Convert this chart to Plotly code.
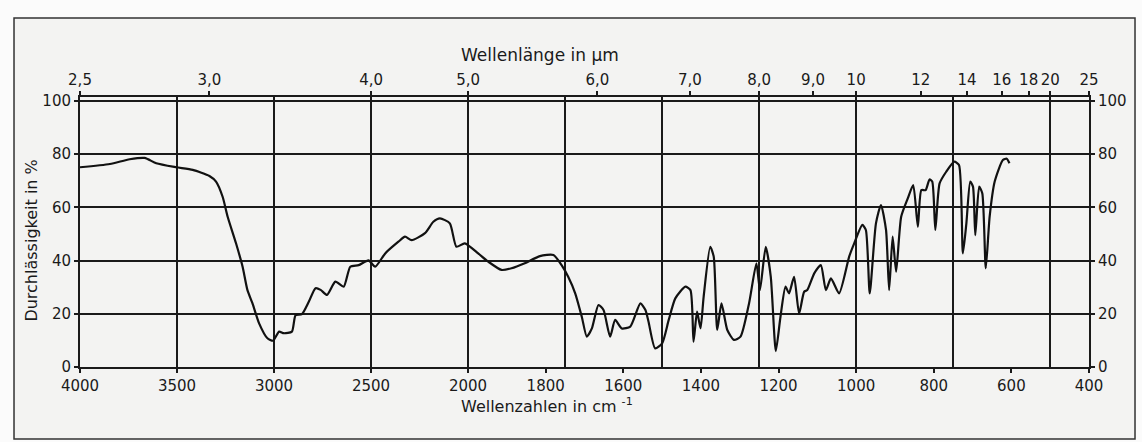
import plotly.graph_objects as go

# ---- data ----
wavenumber = [4000, 3846, 3744, 3667, 3607, 3504, 3419, 3333, 3299, 3265, 3239, 3196, 3162, 3137,
              3111, 3077, 3034, 3005, 2974, 2950, 2908, 2889, 2856, 2821, 2786, 2760, 2727, 2684,
              2641, 2607, 2564, 2513, 2479, 2427, 2359, 2325, 2291, 2222, 2179, 2145, 2094, 2060,
              2017, 1974, 1948, 1914, 1888, 1854, 1815, 1780, 1759, 1742, 1724, 1707, 1694, 1681,
              1664, 1651, 1634, 1621, 1604, 1582, 1556, 1543, 1535, 1518, 1500, 1483, 1466, 1440,
              1427, 1419, 1410, 1401, 1393, 1376, 1367, 1358, 1347, 1332, 1315, 1298, 1276, 1257,
              1248, 1233, 1220, 1207, 1195, 1182, 1173, 1160, 1147, 1134, 1126, 1108, 1091, 1078,
              1065, 1044, 1018, 1005, 984, 975, 965, 949, 936, 923, 915, 906, 897, 884, 867, 853,
              841, 832, 821, 811, 804, 796, 785, 768, 747, 735, 725, 716, 706, 699, 693, 683, 675,
              666, 656, 643, 622, 612, 605]
transmission = [75.1, 76.3, 78.1, 78.6, 76.6, 75.1, 74.1, 71.8, 69.7, 64.0, 56.5, 46.5, 37.7, 28.9,
                23.9, 16.4, 10.8, 9.9, 13.3, 12.7, 13.3, 19.5, 19.9, 24.5, 29.6, 29.0, 27.1, 32.1,
                30.2, 37.7, 38.3, 40.1, 37.7, 42.7, 47.1, 49.0, 47.7, 50.3, 54.6, 55.9, 54.0, 45.2,
                46.5, 42.7, 39.6, 36.5, 37.1, 39.0, 41.7, 42.1, 38.3, 33.9, 27.7, 18.9, 11.4, 14.5,
                23.3, 21.4, 11.4, 17.7, 14.5, 15.2, 23.9, 21.4, 17.0, 7.0, 8.9, 17.7, 25.8, 30.2,
                28.9, 9.5, 20.8, 14.5, 26.4, 45.2, 41.5, 13.9, 23.9, 13.9, 10.2, 11.4, 23.9, 39.0,
                28.9, 45.2, 33.9, 6.0, 18.9, 30.2, 27.7, 33.9, 20.1, 28.3, 28.9, 35.2, 38.3, 28.9,
                33.3, 27.7, 41.5, 46.5, 53.4, 51.5, 27.7, 54.0, 60.9, 51.5, 28.9, 49.0, 35.8, 56.5,
                63.4, 68.4, 52.7, 66.5, 66.5, 70.5, 69.7, 51.5, 69.0, 73.4, 77.2, 75.9, 42.7, 54.0,
                69.7, 67.8, 49.6, 67.8, 65.3, 37.1, 56.5, 69.7, 77.8, 78.3, 76.6]

wavelength_ticks = [2.5, 3.0, 4.0, 5.0, 6.0, 7.0, 8.0, 9.0, 10, 12, 14, 16, 18, 20, 25]
wavelength_labels = ["2,5", "3,0", "4,0", "5,0", "6,0", "7,0", "8,0", "9,0",
                     "10", "12", "14", "16", "18", "20", "25"]
wavenumber_ticks = [4000, 3500, 3000, 2500, 2000, 1800, 1600, 1400, 1200, 1000, 800, 600, 400]
grid_wavenumbers = [3500, 3000, 2500, 2000, 1750, 1500, 1250, 1000, 750, 500]
y_ticks = [0, 20, 40, 60, 80, 100]


# chart paper scale: 4000-2000 cm-1 compressed by factor 2 relative to 2000-400 cm-1
def scale(w):
    return (4000 - w) / 2 if w >= 2000 else 1000 + (2000 - w)


X_RANGE = [scale(4000), scale(400)]
Y_RANGE = [0, 101.5]
FONT = "DejaVu Sans"
INK = "#1a1a1a"
PAPER = "#f3f3f2"

xs = [scale(w) for w in wavenumber]

fig = go.Figure()
fig.add_trace(go.Scatter(x=xs, y=transmission, mode="lines",
                         line=dict(color="#111111", width=2.2, shape="spline", smoothing=0.6),
                         hoverinfo="skip", showlegend=False))
# invisible helpers so that the overlay axes are drawn
for xa, ya in [("x2", "y"), ("x3", "y"), ("x", "y2")]:
    fig.add_trace(go.Scatter(x=xs, y=transmission, mode="lines", xaxis=xa, yaxis=ya,
                             line=dict(color="rgba(0,0,0,0)"), hoverinfo="skip",
                             showlegend=False))

tickfont = dict(family=FONT, size=15, color=INK)

fig.update_layout(
    width=1142, height=442,
    margin=dict(l=80, r=53, t=97, b=75),
    paper_bgcolor="#fbfbfb", plot_bgcolor=PAPER,
    font=dict(family=FONT, size=15, color=INK),
    xaxis=dict(range=X_RANGE, tickmode="array",
               tickvals=[scale(w) for w in wavenumber_ticks],
               ticktext=[str(w) for w in wavenumber_ticks],
               ticks="outside", ticklen=4, tickwidth=1.5, tickcolor=INK,
               showgrid=False, zeroline=False, showline=True, linewidth=2, linecolor=INK,
               tickfont=tickfont),
    xaxis2=dict(range=X_RANGE, overlaying="x", side="top", anchor="y", tickmode="array",
                tickvals=[scale(10000 / l) for l in wavelength_ticks],
                ticktext=wavelength_labels,
                ticks="outside", ticklen=4, tickwidth=1.5, tickcolor=INK,
                showgrid=False, zeroline=False, showline=True, linewidth=2, linecolor=INK,
                tickfont=tickfont),
    xaxis3=dict(range=X_RANGE, overlaying="x", anchor="y", tickmode="array",
                tickvals=[scale(w) for w in grid_wavenumbers],
                showticklabels=False, ticks="", showgrid=True, gridcolor=INK, gridwidth=1.5,
                zeroline=False, showline=False),
    yaxis=dict(range=Y_RANGE, tickmode="array", tickvals=y_ticks,
               ticks="outside", ticklen=4, tickwidth=1.5, tickcolor=INK,
               showgrid=True, gridcolor=INK, gridwidth=1.5,
               zeroline=False, showline=True, linewidth=2, linecolor=INK,
               tickfont=tickfont),
    yaxis2=dict(range=Y_RANGE, overlaying="y", side="right", anchor="x", tickmode="array",
                tickvals=y_ticks, ticks="outside", ticklen=4, tickwidth=1.5, tickcolor=INK,
                showgrid=False, zeroline=False, showline=True, linewidth=2, linecolor=INK,
                tickfont=tickfont),
    shapes=[dict(type="rect", xref="paper", yref="paper", layer="below",
                 x0=-0.0654, x1=1.0456, y0=-0.267, y1=1.293, fillcolor=PAPER,
                 line=dict(color="#333333", width=1.5))],
    annotations=[
        dict(text="Wellenlänge in µm", xref="paper", yref="paper", x=0.456, y=1.156,
             xanchor="center", yanchor="middle",
             showarrow=False, font=dict(family=FONT, size=17, color=INK)),
        dict(text="Wellenzahlen in cm <sup>-1</sup>", xref="paper", yref="paper",
             x=0.463, y=-0.141, xanchor="center", yanchor="middle",
             showarrow=False, font=dict(family=FONT, size=16, color=INK)),
        dict(text="Durchlässigkeit in %", xref="paper", yref="paper", x=-0.0476, y=0.468,
             xanchor="center", yanchor="middle",
             textangle=-90, showarrow=False, font=dict(family=FONT, size=16, color=INK)),
    ],
)

fig.write_html("out.html")
